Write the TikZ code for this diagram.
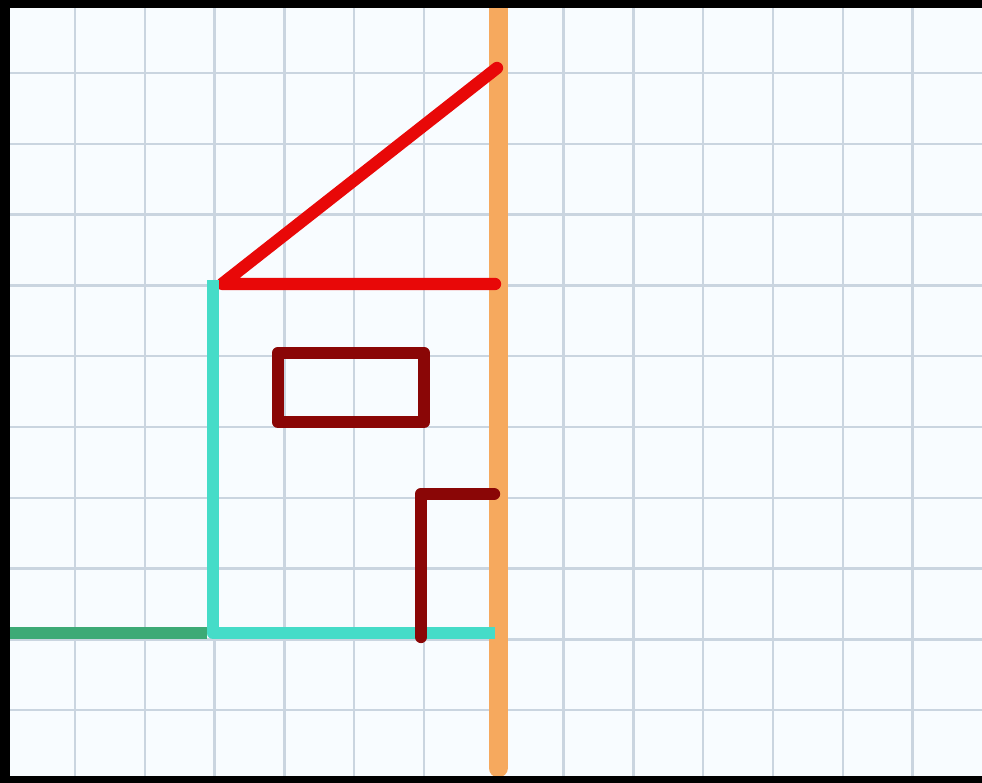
\documentclass[tikz,border=0pt]{standalone}
\begin{document}
\begin{tikzpicture}[x=0.01cm,y=-0.01cm,
  gridline/.style={draw=gridc,line width=0.7pt},
  thick stroke/.style={line width=3.5pt,line cap=round,line join=round}]
\definecolor{gridc}{HTML}{CAD5E0}
\definecolor{bgc}{HTML}{F8FCFF}
\definecolor{orangec}{HTML}{F6A95E}
\definecolor{redc}{HTML}{E80808}
\definecolor{tealc}{HTML}{45DCC8}
\definecolor{greenc}{HTML}{3DAA76}
\definecolor{darkredc}{HTML}{8A0606}
\useasboundingbox (0,0) rectangle (982,783);
\fill[bgc] (0,0) rectangle (982,783);
% grid
\foreach \i in {0,...,12} {\draw[gridline] ({75+69.8*\i},0) -- ({75+69.8*\i},783);}
\foreach \j in {0,...,9} {\draw[gridline] (0,{73+70.8*\j}) -- (982,{73+70.8*\j});}
% orange axis
\draw[orangec,line width=5.4pt,line cap=round] (498,0) -- (498,768);
% red triangle
\draw[redc,thick stroke] (495,284) -- (222,284) -- (497,68);
% teal
\draw[tealc,thick stroke,line cap=butt] (213,280) -- (213,633) -- (495,633);
% green
\draw[greenc,line width=3.4pt] (10,633) -- (207,633);
% dark red rectangle
\draw[darkredc,thick stroke] (278,353) rectangle (424,422);
% dark red corner
\draw[darkredc,thick stroke] (421,637) -- (421,494) -- (494,494);
% black frame (left, top, bottom)
\fill[black] (0,0) rectangle (10,783);
\fill[black] (0,0) rectangle (982,8);
\fill[black] (0,776) rectangle (982,783);
\end{tikzpicture}
\end{document}
